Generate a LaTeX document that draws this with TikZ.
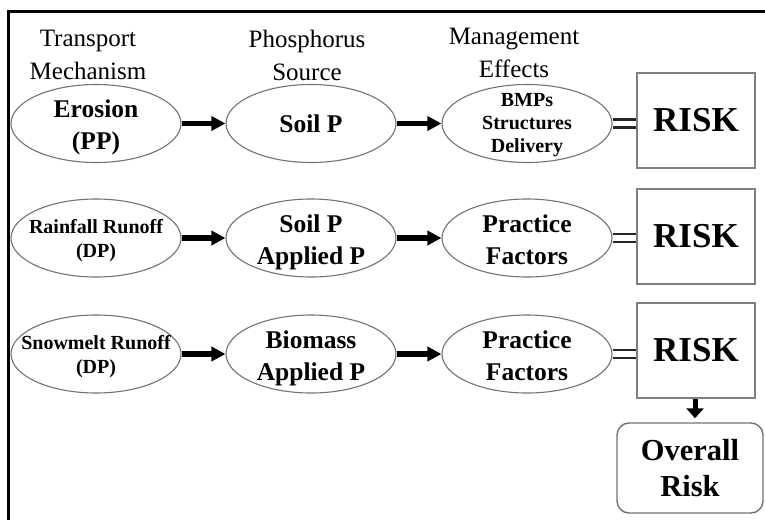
\documentclass[tikz,border=0pt]{standalone}
\usepackage{fontspec}
\setmainfont{Liberation Serif}
\usetikzlibrary{shapes.geometric,arrows.meta}
\begin{document}
\begin{tikzpicture}[x=1pt,y=-1pt,
  ell/.style={ellipse,draw=black!55,line width=1.1pt,inner sep=0pt,minimum width=170pt,minimum height=78pt},
  riskbox/.style={rectangle,draw=black!50,line width=1.6pt,inner sep=0pt,minimum width=118pt,minimum height=95pt,font=\bfseries\fontsize{35}{40}\selectfont},
  hdr/.style={align=center,font=\fontsize{25}{33}\selectfont,inner sep=0pt},
  big/.style={align=center,font=\bfseries\fontsize{25.5}{32}\selectfont,inner sep=0pt},
  small/.style={align=center,font=\bfseries\fontsize{20}{24}\selectfont,inner sep=0pt},
  tiny/.style={align=center,font=\bfseries\fontsize{20}{23}\selectfont,inner sep=0pt},
  arr/.style={line width=5.5pt,-{Triangle[length=14pt,width=14pt]}},
  eq/.style={line width=2.6pt,black!85}
]
\useasboundingbox (0,0) rectangle (765,520);
\fill[white] (0,0) rectangle (765,520);
% frame
\draw[line width=3pt] (8,520) -- (8,11) -- (765,11);
% headers
\node[hdr] (h1) at (88,55) {Transport\\Mechanism};
\node[hdr] (h2) at (307,55) {Phosphorus\\Source};
\node[hdr] (h3) at (514,53) {Management\\Effects};
% row 1
\node[ell] (a1) at (96,123.5) {};
\node[big] (ta1) at ([yshift=-4pt]a1.center) {Erosion\\(PP)};
\node[ell] (b1) at (311,123.5) {};
\node[big] (tb1) at (b1) {Soil P};
\node[ell] (c1) at (527,123.5) {};
\node[tiny] (tc1) at ([yshift=-2pt]c1.center) {BMPs\\Structures\\Delivery};
\node[riskbox] (r1) at (696,120.5) {RISK};
% row 2
\node[ell] (a2) at (96,238) {};
\node[small] (ta2) at ([yshift=-3pt]a2.center) {Rainfall Runoff\\(DP)};
\node[ell] (b2) at (311,238) {};
\node[big] (tb2) at ([yshift=-4pt]b2.center) {Soil P\\Applied P};
\node[ell] (c2) at (527,238) {};
\node[big] (tc2) at ([yshift=-2pt]c2.center) {Practice\\Factors};
\node[riskbox] (r2) at (696,236.5) {RISK};
% row 3
\node[ell] (a3) at (96,354) {};
\node[small] (ta3) at ([yshift=-3pt]a3.center) {Snowmelt Runoff\\(DP)};
\node[ell] (b3) at (311,354) {};
\node[big] (tb3) at ([yshift=-4pt]b3.center) {Biomass\\Applied P};
\node[ell] (c3) at (527,354) {};
\node[big] (tc3) at ([yshift=-2pt]c3.center) {Practice\\Factors};
\node[riskbox] (r3) at (696,350.5) {RISK};
% overall
\node[rectangle,rounded corners=12pt,draw=black!55,line width=1.4pt,minimum width=146pt,minimum height=90pt,align=center,font=\bfseries\fontsize{30.5}{36}\selectfont] (o) at (690,468) {Overall\\Risk};
% arrows
\foreach \r in {1,2,3}{
  \draw[arr] (a\r.east) -- (b\r.west);
  \draw[arr] (b\r.east) -- (c\r.west);
  \draw[eq] ([yshift=-4pt]c\r.east) -- ([yshift=-4pt]c\r.east -| r\r.west);
  \draw[eq] ([yshift=4pt]c\r.east) -- ([yshift=4pt]c\r.east -| r\r.west);
}
\draw[line width=5pt,-{Triangle[length=10pt,width=17pt]},shorten >=4pt] ([xshift=-1pt]r3.south) -- ([xshift=-1pt]r3.south |- o.north);
\end{tikzpicture}
\end{document}
